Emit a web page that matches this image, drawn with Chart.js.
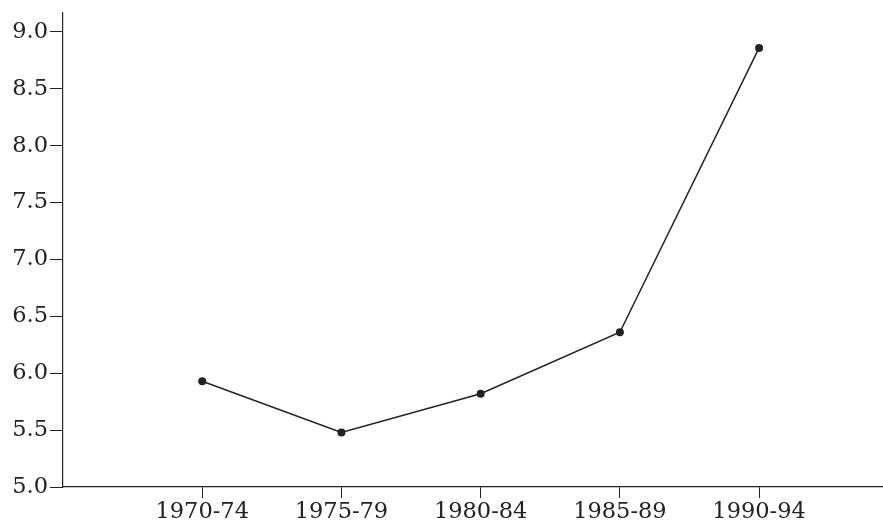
<!DOCTYPE html>
<html>
<head>
<meta charset="utf-8">
<script src="https://cdn.jsdelivr.net/npm/chart.js@4"></script>
<style>
  html, body { margin: 0; padding: 0; background: #fff; }
  canvas { display: block; }
</style>
</head>
<body>
<canvas id="chart" width="883" height="525"></canvas>
<script>
const periods = ["1970-74", "1975-79", "1980-84", "1985-89", "1990-94"];
const values = [5.93, 5.48, 5.82, 6.36, 8.86];
const yTickValues = [5.0, 5.5, 6.0, 6.5, 7.0, 7.5, 8.0, 8.5, 9.0];

const ink = "#222";
const font = { family: "'DejaVu Serif', 'Liberation Serif', serif", size: 22.5 };

new Chart(document.getElementById("chart"), {
  type: "line",
  data: {
    datasets: [
      {
        data: values.map((v, i) => ({ x: i, y: v })),
        borderColor: ink,
        borderWidth: 1.5,
        backgroundColor: ink,
        pointRadius: 4,
        pointBackgroundColor: ink,
        pointBorderWidth: 0,
        tension: 0,
      },
    ],
  },
  options: {
    responsive: false,
    animation: false,
    layout: { autoPadding: false, padding: { top: 13, left: 0, right: 0, bottom: 0 } },
    plugins: { legend: { display: false }, tooltip: { enabled: false } },
    scales: {
      x: {
        type: "linear",
        min: -1,
        max: 4.89,
        afterBuildTicks: (scale) => {
          scale.ticks = periods.map((p, i) => ({ value: i }));
        },
        afterFit: (scale) => {
          scale.height = 38;
          scale.paddingLeft = 0;
          scale.paddingRight = 0;
        },
        ticks: {
          color: ink,
          font: font,
          padding: 1,
          maxRotation: 0,
          autoSkip: false,
          callback: (value) => periods[value] ?? "",
        },
        grid: {
          drawOnChartArea: false,
          tickLength: 11,
          tickColor: ink,
        },
        border: { display: true, color: ink, width: 1.2 },
      },
      y: {
        type: "linear",
        min: 5.0,
        max: 9.167,
        afterBuildTicks: (scale) => {
          scale.ticks = yTickValues.map((v) => ({ value: v }));
        },
        afterFit: (scale) => {
          scale.width = 63;
          scale.paddingTop = 0;
          scale.paddingBottom = 0;
        },
        ticks: {
          color: ink,
          font: font,
          padding: 2,
          callback: (value) => value.toFixed(1),
        },
        grid: {
          drawOnChartArea: false,
          tickLength: 13,
          tickColor: ink,
        },
        border: { display: true, color: ink, width: 1.2 },
      },
    },
  },
});
</script>
</body>
</html>
